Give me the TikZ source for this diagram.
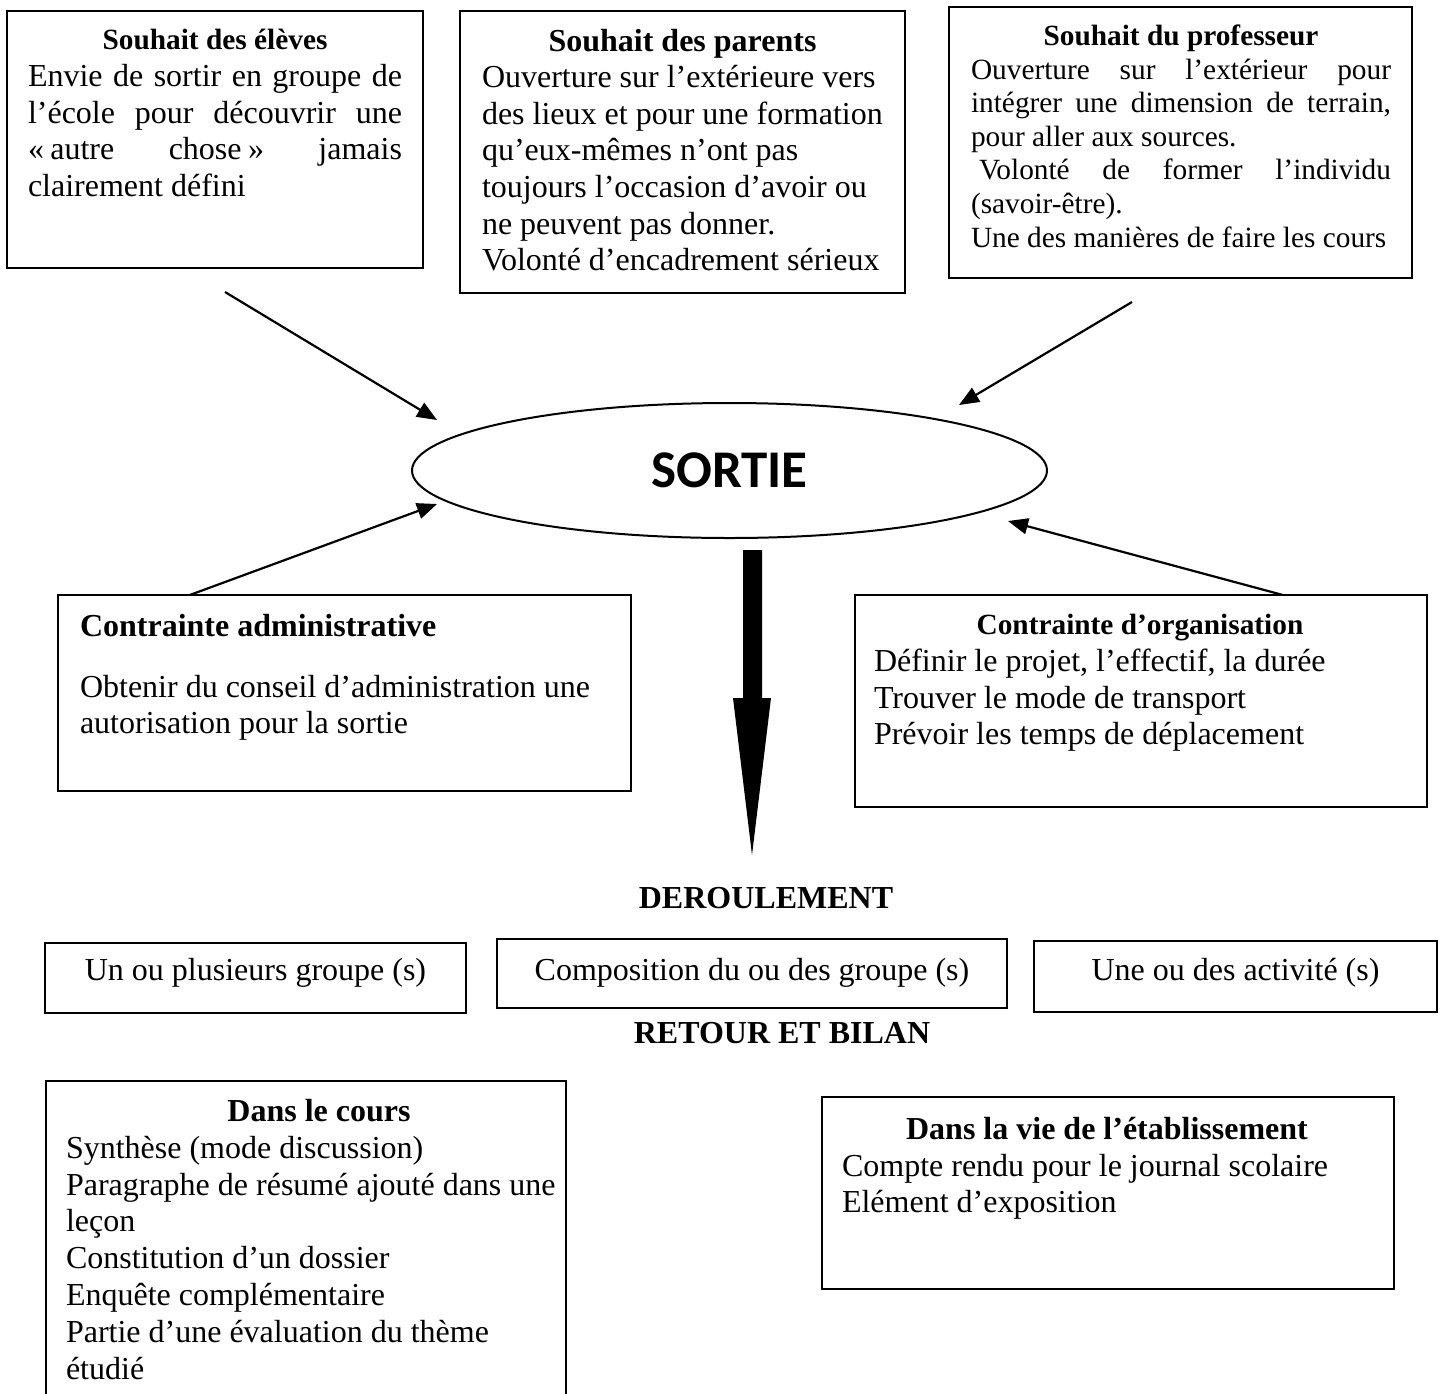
\documentclass[tikz,border=0pt]{standalone}
\usepackage{fontspec}
\setmainfont{Liberation Serif}
\newfontfamily\calibfont{Carlito}
\usetikzlibrary{arrows.meta,shapes.geometric,calc}
\newcommand{\JL}[2]{\makebox[#1][s]{#2}}
\newcommand{\NS}{\spaceskip=0pt\xspaceskip=0pt\hyphenpenalty=10000\relax}
\begin{document}
\begin{tikzpicture}[x=1pt,y=-1pt,
  box/.style={draw,line width=2pt,inner sep=0pt,outer sep=0pt},
  txt/.style={inner sep=0pt,outer sep=0pt,align=left},
  twelve/.style={font=\fontsize{32}{36.8}\selectfont},
  eleven/.style={font=\fontsize{29.33}{33.6}\selectfont},
  conn/.style={line width=2.2pt,-{Triangle[length=20pt,width=16pt]}}]
\path[fill=white,use as bounding box] (0,0) rectangle (1440,1393);

% top boxes
\node[box,minimum width=416pt,minimum height=257pt] (b1) at (215,139.5) {};
\node[box,minimum width=445pt,minimum height=282pt] (b2) at (682.5,152) {};
\node[box,minimum width=463pt,minimum height=271pt] (b3) at (1180.5,142.5) {};

\node[txt,twelve,text width=374pt,anchor=base west] (t1) at (28,49.5) {\NS
\makebox[374pt]{\bfseries\fontsize{29.33}{36.8}\selectfont Souhait des élèves}\\
\JL{374pt}{Envie de sortir en groupe de}\\
\JL{374pt}{l’école pour découvrir une}\\
\JL{374pt}{«\hspace{0.2em}autre chose\hspace{0.2em}» jamais}\\
clairement défini};

\node[txt,font=\fontsize{32}{36.6}\selectfont,text width=412pt,anchor=base west] (t2) at (482,51) {\NS
\makebox[401pt]{\bfseries Souhait des parents}\\
Ouverture sur l’extérieure vers\\
des lieux et pour une formation\\
qu’eux-mêmes n’ont pas\\
toujours l’occasion d’avoir ou\\
ne peuvent pas donner.\\
Volonté d’encadrement sérieux};

\node[txt,eleven,text width=420pt,anchor=base west] (t3) at (971,45.5) {\NS
\makebox[420pt]{\bfseries Souhait du professeur}\\
\JL{420pt}{Ouverture sur l’extérieur pour}\\
\JL{420pt}{intégrer une dimension de terrain,}\\
pour aller aux sources.\\
\JL{420pt}{\hspace*{8pt}Volonté de former l’individu}\\
(savoir-être).\\
Une des manières de faire les cours};

% central ellipse
\node[draw,ellipse,line width=2pt,minimum width=635pt,minimum height=135pt,inner sep=0pt,
  font=\calibfont\bfseries\fontsize{53}{60}\selectfont] (sortie) at (729.5,470.5) {SORTIE};

% constraint boxes
\node[box,minimum width=573pt,minimum height=196pt] (adm) at (344.5,693) {};
\node[box,minimum width=572pt,minimum height=212pt] (org) at (1141,701) {};

\node[txt,twelve,text width=540pt,anchor=base west] (tadm) at (80,636) {\NS
\textbf{Contrainte administrative}\\[24.2pt]
Obtenir du conseil d’administration une\\
autorisation pour la sortie};

\node[txt,twelve,text width=532pt,anchor=base west] (torg) at (874,634.5) {\NS
\makebox[532pt]{\bfseries\fontsize{29.33}{36.8}\selectfont Contrainte d’organisation}\\
Définir le projet, l’effectif, la durée\\
Trouver le mode de transport\\
Prévoir les temps de déplacement};

% arrows to SORTIE
\coordinate (a1s) at (225,292);
\coordinate (a1e) at (437,420);
\coordinate (a2s) at (1132,302);
\coordinate (a2e) at (959,405);
\coordinate (a3s) at ($(adm.north west)!0.23!(adm.north east)$);
\coordinate (a3e) at (437,504);
\coordinate (a4s) at ($(org.north west)!0.748!(org.north east)$);
\coordinate (a4e) at (1008,521);
\draw[conn] (a1s) -- (a1e);
\draw[conn] (a2s) -- (a2e);
\draw[conn] (a3s) -- (a3e);
\draw[conn] (a4s) -- (a4e);

% big down arrow
\fill[black] (743,550) -- (762,550) -- (762,698) -- (771,698) -- (752,855) -- (733,698) -- (743,698) -- cycle;

% DEROULEMENT
\node[txt,anchor=base,font=\bfseries\fontsize{32}{36.8}\selectfont] (der) at (766,908.5) {DEROULEMENT};
\node[box,minimum width=421pt,minimum height=70pt] (ga) at (255.5,978) {};
\node[box,minimum width=510pt,minimum height=69pt] (gb) at (752,973.5) {};
\node[box,minimum width=403pt,minimum height=71pt] (gc) at (1235.5,976.5) {};
\node[txt,twelve,anchor=base] (tga) at (255.5,980) {Un ou plusieurs groupe (s)};
\node[txt,twelve,anchor=base] (tgb) at (752,980) {Composition du ou des groupe (s)};
\node[txt,twelve,anchor=base] (tgc) at (1235.5,980) {Une ou des activité (s)};

% RETOUR ET BILAN
\node[txt,anchor=base,font=\bfseries\fontsize{32}{36.8}\selectfont] (ret) at (782,1043) {RETOUR ET BILAN};
\node[box,minimum width=520pt,minimum height=339pt] (cours) at (306,1250.5) {};
\node[box,minimum width=572pt,minimum height=192pt] (vie) at (1108,1193) {};

\node[txt,twelve,text width=506pt,anchor=base west] (tcours) at (66,1121.5) {\NS
\makebox[506pt]{\bfseries Dans le cours}\\
Synthèse (mode discussion)\\
Paragraphe de résumé ajouté dans une\\
leçon\\
Constitution d’un dossier\\
Enquête complémentaire\\
Partie d’une évaluation du thème\\
étudié};

\node[txt,font=\fontsize{32}{36.5}\selectfont,text width=530pt,anchor=base west] (tvie) at (842,1139.5) {\NS
\makebox[530pt]{\bfseries Dans la vie de l’établissement}\\
Compte rendu pour le journal scolaire\\
Elément d’exposition};
\end{tikzpicture}
\end{document}
